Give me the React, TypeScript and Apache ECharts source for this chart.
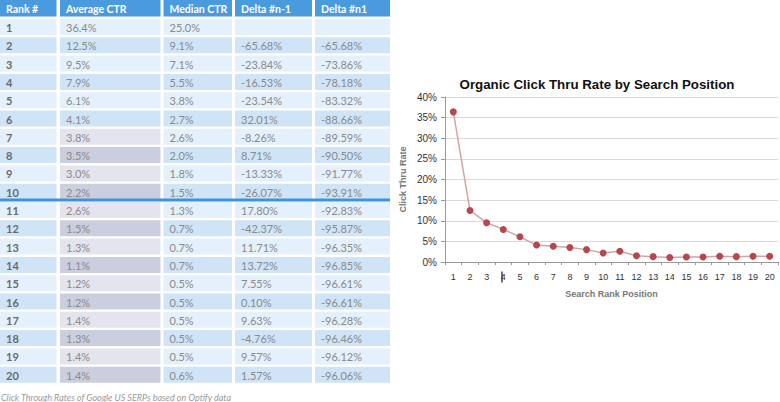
import React, { useEffect, useRef } from 'react';
import * as echarts from 'echarts';

const headers = ['Rank #', 'Average CTR', 'Median CTR', 'Delta #n-1', 'Delta #n1'];
const ranks = [1, 2, 3, 4, 5, 6, 7, 8, 9, 10, 11, 12, 13, 14, 15, 16, 17, 18, 19, 20];
const avgCtr = [36.4, 12.5, 9.5, 7.9, 6.1, 4.1, 3.8, 3.5, 3.0, 2.2, 2.6, 1.5, 1.3, 1.1, 1.2, 1.2, 1.4, 1.3, 1.4, 1.4];
const medianCtr = [25.0, 9.1, 7.1, 5.5, 3.8, 2.7, 2.6, 2.0, 1.8, 1.5, 1.3, 0.7, 0.7, 0.7, 0.5, 0.5, 0.5, 0.5, 0.5, 0.6];
const deltaPrev = [null, -65.68, -23.84, -16.53, -23.54, 32.01, -8.26, 8.71, -13.33, -26.07, 17.80, -42.37, 11.71, 13.72, 7.55, 0.10, 9.63, -4.76, 9.57, 1.57];
const deltaFirst = [null, -65.68, -73.86, -78.18, -83.32, -88.66, -89.59, -90.50, -91.77, -93.91, -92.83, -95.87, -96.35, -96.85, -96.61, -96.61, -96.28, -96.46, -96.12, -96.06];
const yTicks = [0, 5, 10, 15, 20, 25, 30, 35, 40];
const chartTitle = 'Organic Click Thru Rate by Search Position';
const xName = 'Search Rank Position';
const yName = 'Click Thru Rate';
const caption = 'Click Through Rates of Google US SERPs based on Optify data';

export default function App() {
  const ref = useRef<HTMLDivElement>(null);
  useEffect(() => {
    const chart = echarts.init(ref.current!, null, { renderer: 'svg' });
    const colX = [0, 60, 163.5, 235, 315];
    const colW = [56.5, 100.5, 68.5, 77, 75];
    const textOff = 6;
    const rowTop0 = 19;
    const pitch = 18.3;
    const rowH = 16;
    const blue = '#4a9ade';
    const lightBlue = '#e4f0fb';
    const darkBlue = '#cfe4f7';
    const lightGray = '#e4e4ee';
    const darkGray = '#cbcede';
    const g: any[] = [];
    headers.forEach((h, c) => {
      g.push({ type: 'rect', silent: true, shape: { x: colX[c], y: 0, width: colW[c], height: 16.5 }, style: { fill: blue } });
      g.push({ type: 'text', silent: true, style: { x: colX[c] + textOff, y: 8.5, text: h, fill: '#ffffff', font: 'bold 10.5px Lato', verticalAlign: 'middle' } });
    });
    ranks.forEach((r, i) => {
      const top = rowTop0 + i * pitch;
      const even = (i + 1) % 2 === 0;
      const cells = [
        String(r),
        avgCtr[i].toFixed(1) + '%',
        medianCtr[i].toFixed(1) + '%',
        deltaPrev[i] === null ? '' : (deltaPrev[i] as number).toFixed(2) + '%',
        deltaFirst[i] === null ? '' : (deltaFirst[i] as number).toFixed(2) + '%',
      ];
      cells.forEach((t, c) => {
        let fill = even ? darkBlue : lightBlue;
        if (c === 1 && r >= 7) fill = even ? darkGray : lightGray;
        g.push({ type: 'rect', silent: true, shape: { x: colX[c], y: top, width: colW[c], height: rowH }, style: { fill } });
        if (t) {
          g.push({
            type: 'text', silent: true,
            style: {
              x: colX[c] + textOff, y: top + rowH / 2 + 0.5, text: t,
              fill: c === 0 ? '#6a6a6a' : '#8a8a8a',
              font: c === 0 ? 'bold 11px Lato' : '11px Lato',
              verticalAlign: 'middle',
            },
          });
        }
      });
    });
    g.push({ type: 'rect', silent: true, shape: { x: 0, y: 198.5, width: 390, height: 3 }, style: { fill: '#3f93dc' } });
    g.push({ type: 'text', silent: true, style: { x: 1, y: 397, text: caption, fill: '#9a9a9a', font: 'italic 9px Lato', verticalAlign: 'middle' } });
    g.push({ type: 'line', silent: true, shape: { x1: 502, y1: 271.5, x2: 502, y2: 282.5 }, style: { stroke: '#111111', lineWidth: 1.2 } });

    chart.setOption({
      animation: false,
      backgroundColor: '#ffffff',
      title: {
        text: chartTitle,
        left: 592,
        top: 73,
        textAlign: 'center',
        textStyle: { fontFamily: 'Liberation Sans', fontWeight: 'bold', fontSize: 13.3, color: '#111111' },
      },
      grid: { left: 445, right: 2, top: 97, bottom: 140, containLabel: false },
      xAxis: {
        type: 'category',
        data: ranks.map(String),
        boundaryGap: true,
        name: xName,
        nameLocation: 'middle',
        nameGap: 27,
        nameTextStyle: { fontFamily: 'Liberation Sans', fontWeight: 'bold', fontSize: 9, color: '#777777' },
        axisLine: { lineStyle: { color: '#999999', width: 1 } },
        axisTick: { show: true, length: 3, lineStyle: { color: '#999999' } },
        axisLabel: { fontFamily: 'Liberation Sans', fontSize: 9, color: '#333333', margin: 10, interval: 0 },
        splitLine: { show: false },
      },
      yAxis: {
        type: 'value',
        min: yTicks[0],
        max: yTicks[yTicks.length - 1],
        interval: yTicks[1] - yTicks[0],
        name: yName,
        nameLocation: 'middle',
        nameGap: 38,
        nameRotate: 90,
        nameTextStyle: { fontFamily: 'Liberation Sans', fontWeight: 'bold', fontSize: 9, color: '#777777' },
        axisLine: { show: true, lineStyle: { color: '#999999', width: 1 } },
        axisTick: { show: true, length: 4, lineStyle: { color: '#999999' } },
        axisLabel: { fontFamily: 'Liberation Sans', fontSize: 10, color: '#333333', margin: 8, formatter: '{value}%' },
        splitLine: { show: true, lineStyle: { color: '#d9d9d9', width: 1 } },
      },
      series: [
        {
          type: 'line',
          data: avgCtr,
          symbol: 'circle',
          symbolSize: 7,
          itemStyle: { color: '#b5484b' },
          lineStyle: { color: '#d4a3a3', width: 1.5 },
        },
      ],
      graphic: g,
    });
    return () => chart.dispose();
  }, []);
  return <div ref={ref} style={{ position: 'fixed', left: 0, top: 0, width: 780, height: 402, background: '#fff' }} />;
}
